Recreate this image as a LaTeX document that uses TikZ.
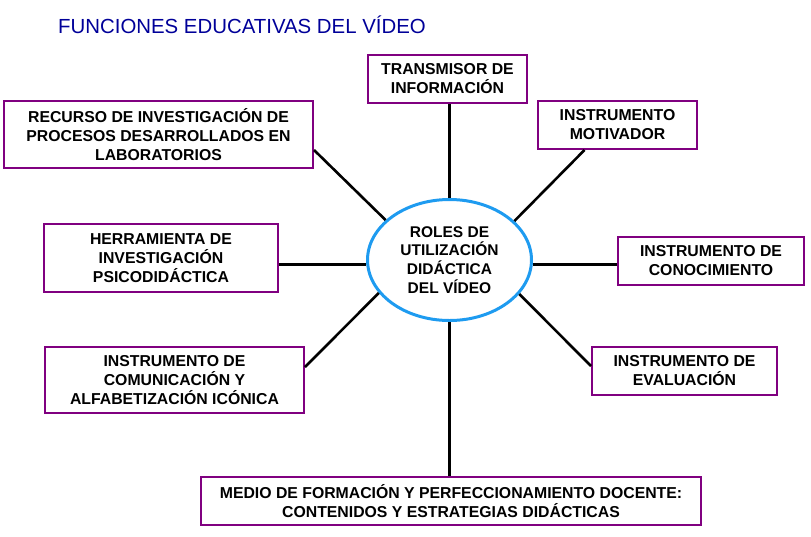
\documentclass[tikz,border=0pt]{standalone}
\usepackage{fontspec}
\setmainfont{Liberation Sans}
\usepackage{tikz}
\usetikzlibrary{calc}
\usetikzlibrary{shapes.geometric}
\definecolor{rolepurple}{RGB}{128,0,128}
\definecolor{roleblue}{RGB}{30,155,240}
\definecolor{titlenavy}{RGB}{0,0,153}
\tikzset{role/.style={rectangle,draw=rolepurple,line width=2pt,align=center,inner sep=0pt,font=\bfseries\fontsize{15.8}{19}\selectfont}}
\tikzset{hub/.style={ellipse,draw=roleblue,line width=3pt,align=center,inner sep=0pt,minimum width=164pt,minimum height=121pt,font=\bfseries\fontsize{15.5}{18.7}\selectfont}}
\tikzset{spoke/.style={line width=2.6pt,black}}

\begin{document}
\begin{tikzpicture}[x=1pt,y=-1pt]
\useasboundingbox (0,0) rectangle (811,536);
\node[anchor=base west,text=titlenavy,inner sep=0pt,font=\fontsize{20.4}{24}\selectfont] (title) at (58,33) {FUNCIONES EDUCATIVAS DEL VÍDEO};

\node[hub] (e) at (449.5,260) {ROLES DE\\UTILIZACIÓN\\DIDÁCTICA\\DEL VÍDEO};

\node[role,minimum width=159pt,minimum height=48pt] (trans) at (447.5,79) {TRANSMISOR DE\\INFORMACIÓN};
\node[role,minimum width=309pt,minimum height=67pt] (recurso) at (158.5,134.5) {RECURSO DE INVESTIGACIÓN DE\\PROCESOS DESARROLLADOS EN\\LABORATORIOS};
\node[role,minimum width=159pt,minimum height=48pt] (motiv) at (617.5,125) {INSTRUMENTO\\MOTIVADOR};
\node[role,minimum width=234pt,minimum height=68pt] (herr) at (161,258) {HERRAMIENTA DE\\INVESTIGACIÓN\\PSICODIDÁCTICA};
\node[role,minimum width=186pt,minimum height=48pt] (conoc) at (711,261) {INSTRUMENTO DE\\CONOCIMIENTO};
\node[role,minimum width=259pt,minimum height=66pt] (comun) at (174.5,380) {INSTRUMENTO DE\\COMUNICACIÓN Y\\ALFABETIZACIÓN ICÓNICA};
\node[role,minimum width=185pt,minimum height=48pt] (eval) at (684.5,371) {INSTRUMENTO DE\\EVALUACIÓN};
\node[role,minimum width=500pt,minimum height=48pt] (medio) at (451,501) {MEDIO DE FORMACIÓN Y PERFECCIONAMIENTO DOCENTE:\\CONTENIDOS Y ESTRATEGIAS DIDÁCTICAS};

% spokes
\draw[spoke] (e.north) -- (e.north |- trans.south);
\draw[spoke] (e.south) -- (e.south |- medio.north);
\draw[spoke] (e.183.5) -- (e.183.5 -| herr.east);
\draw[spoke] (e.-3.5) -- (e.-3.5 -| conoc.west);
\draw[spoke] (e.148.7) -- ([yshift=19pt]recurso.south east);
\draw[spoke] (e.31) -- ([xshift=-33pt]motiv.south);
\draw[spoke] (e.205.4) -- ([yshift=-21pt]comun.north east);
\draw[spoke] (e.334.3) -- ([yshift=-20pt]eval.north west);
\end{tikzpicture}
\end{document}
